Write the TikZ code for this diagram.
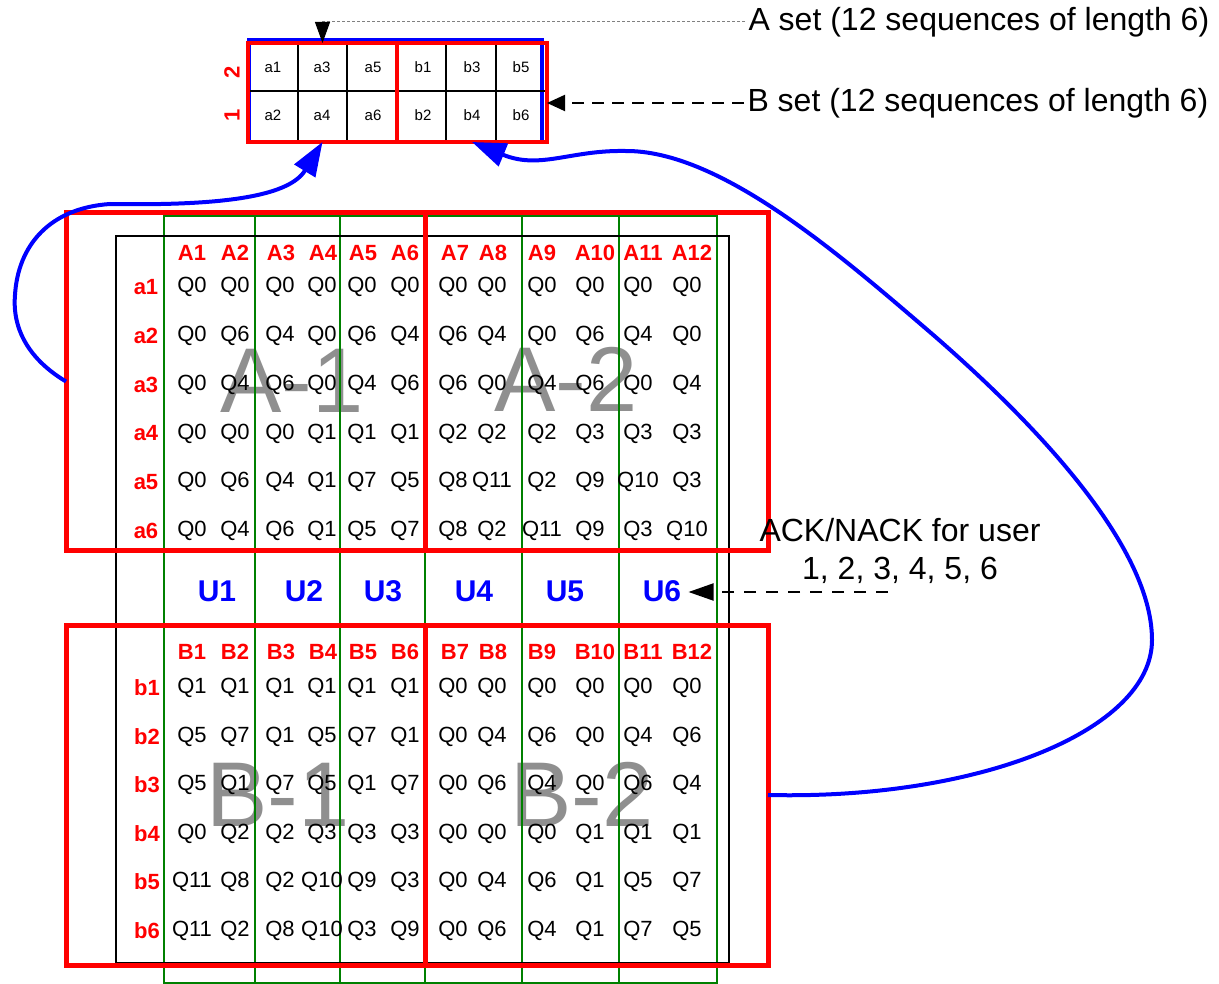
\documentclass[tikz,border=0pt]{standalone}
\usepackage{fontspec}
\setmainfont{Liberation Sans}
\usetikzlibrary{arrows.meta}

\begin{document}
\begin{tikzpicture}[x=1pt, y=-1pt,
    qval/.style={font=\fontsize{22}{26}\selectfont},
    hdr/.style={red, font=\fontsize{22}{26}\selectfont\bfseries},
    ulbl/.style={blue, outer sep=4pt, font=\fontsize{30}{34}\selectfont\bfseries},
    biglbl/.style={anchor=base, text=black!44, font=\fontsize{92}{92}\selectfont},
    note/.style={font=\fontsize{32}{38}\selectfont},
    redbox/.style={draw=red, line width=5, inner sep=0pt, outer sep=0pt},
    link/.style={blue, line width=4, -{Triangle[length=34pt,width=24pt]}}]
    \useasboundingbox (0,0) rectangle (1219,984);
    % faded group names
    \foreach \lbl/\x/\y in {A-1/292/413, A-2/566/412, B-1/278/826, B-2/582/826}
        \node [biglbl] (big\lbl) at (\x,\y) {\lbl};
    % one green column per user
    \foreach \xa/\xb in {164/255, 255/340, 340/425, 425/522, 522/619, 619/717}
        \draw [green!50!black, line width=2.5] (\xa,216) rectangle (\xb,983);
    \draw [line width=2] (116,236) rectangle (729,963);
    % column heads
    \foreach \x [count=\c] in {192,235,281,323,363,405,455,493,542,595,643,692} {
        \node [hdr] (hA\c) at (\x,253) {A\c};
        \node [hdr] (hB\c) at (\x,652) {B\c};
    }
    % A set table
    \foreach \vals [count=\r] in {{0,0,0,0,0,0,0,0,0,0,0,0}, {0,6,4,0,6,4,6,4,0,6,4,0},
            {0,4,6,0,4,6,6,0,4,6,0,4}, {0,0,0,1,1,1,2,2,2,3,3,3},
            {0,6,4,1,7,5,8,11,2,9,10,3}, {0,4,6,1,5,7,8,2,11,9,3,10}} {
        \pgfmathsetmacro\y{287+(\r-1)*48.8}
        \node [hdr] (ra\r) at (146,\y) {a\r};
        \foreach \v [count=\c] in \vals {
            \pgfmathsetmacro\x{{192,235,280,322,362,405,453,492,542,590,638,687}[\c-1]}
            \node [qval] (qa\r-\c) at (\x,\y) {Q\v};
        }
    }
    % B set table
    \foreach \vals [count=\r] in {{1,1,1,1,1,1,0,0,0,0,0,0}, {5,7,1,5,7,1,0,4,6,0,4,6},
            {5,1,7,5,1,7,0,6,4,0,6,4}, {0,2,2,3,3,3,0,0,0,1,1,1},
            {11,8,2,10,9,3,0,4,6,1,5,7}, {11,2,8,10,3,9,0,6,4,1,7,5}} {
        \pgfmathsetmacro\y{688+(\r-1)*48.5}
        \node [hdr] (rb\r) at (147,\y) {b\r};
        \foreach \v [count=\c] in \vals {
            \pgfmathsetmacro\x{{192,235,280,322,362,405,453,492,542,590,638,687}[\c-1]}
            \node [qval] (qb\r-\c) at (\x,\y) {Q\v};
        }
    }
    % users
    \foreach \x [count=\c] in {217,304,383,474,565,662}
        \node [ulbl] (U\c) at (\x,591) {U\c};
    \node [redbox, minimum width=359pt, minimum height=337pt] (Aone) at (245.5,381.5) {};
    \node [redbox, minimum width=343pt, minimum height=337pt] (Atwo) at (596.5,381.5) {};
    \node [redbox, minimum width=359pt, minimum height=340pt] (Bone) at (245.5,795) {};
    \node [redbox, minimum width=343pt, minimum height=340pt] (Btwo) at (596.5,795) {};
    % the short sets
    \draw [blue, line width=4] (249,40) rectangle (542,142);
    \foreach \x in {297.5,347,446,495.5}
        \draw [line width=2] (\x,43) -- (\x,142);
    \draw [line width=2] (248,91.5) -- (545,91.5);
    \foreach \lbl/\x/\y in {a1/273/67, a3/322/67, a5/373/67, b1/423/67, b3/472/67, b5/521/67,
            a2/273/115, a4/322/115, a6/373/115, b2/423/115, b4/472/115, b6/521/115}
        \node [font=\fontsize{15}{18}\selectfont] (c\lbl) at (\x,\y) {\lbl};
    \node [redbox, line width=4.5, minimum width=149pt, minimum height=99pt] (Aset) at (322.5,92.5) {};
    \node [redbox, line width=4.5, minimum width=150pt, minimum height=99pt] (Bset) at (472,92.5) {};
    \node [hdr, rotate=90] (row2) at (232,72) {2};
    \node [hdr, rotate=90] (row1) at (232,115) {1};
    % notes
    \node [note, anchor=west] (Atxt) at (745,22) {A set (12 sequences of length 6)};
    \node [note, anchor=west] (Btxt) at (744,103) {B set (12 sequences of length 6)};
    \node [note, align=center] (ack) at (900,551) {ACK/NACK for user\\1, 2, 3, 4, 5, 6};
    \coordinate (ackend) at (888,592);
    \draw [gray, line width=1, dash pattern=on 3pt off 2pt,
        -{Triangle[length=21pt,width=15pt,color=black,fill=black]}] (Atxt.west) -| (Aset.north);
    \draw [line width=2, dash pattern=on 12pt off 8pt, -{Triangle[length=18pt,width=16pt]}]
        (Btxt.west) -- (Bset.east |- Btxt.west);
    \draw [line width=2, dash pattern=on 12pt off 10pt, -{Triangle[length=25pt,width=17pt]}]
        (ackend) -- (U6.east |- ackend);
    % feedback loops
    \draw [link] (Aone.west) .. controls (30,360) and (12,330) .. (15,295)
        .. controls (18,245) and (50,208) .. (110,204)
        .. controls (230,206) and (290,195) .. (Aset.south);
    \draw [link] (Btwo.east) .. controls (980,800) and (1152,730) .. (1152,640)
        .. controls (1152,540) and (1020,410) .. (931,333)
        .. controls (840,255) and (720,150) .. (625,151)
        .. controls (570,150) and (540,170) .. (Bset.south);
\end{tikzpicture}
\end{document}
